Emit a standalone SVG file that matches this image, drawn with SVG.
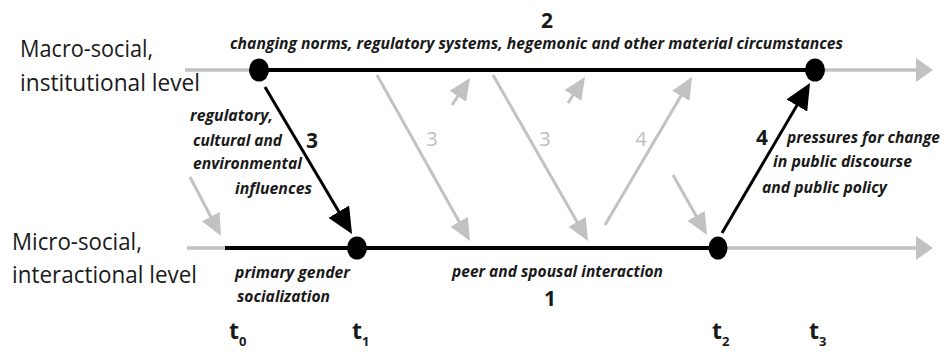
<svg xmlns="http://www.w3.org/2000/svg" width="947" height="356" viewBox="0 0 947 356">
<style>
.lvl{font-family:"Open Sans","Noto Sans",sans-serif;font-size:23px;fill:#1a1a1a}
.lab{font-family:"Open Sans","Noto Sans",sans-serif;font-size:15.5px;font-weight:bold;font-style:italic;fill:#1a1a1a}
.num{font-family:"Open Sans","Noto Sans",sans-serif;font-size:21px;font-weight:bold;fill:#1a1a1a}
.gnum{font-family:"Open Sans","Noto Sans",sans-serif;font-size:20px;fill:#bdbdbd}
.t{font-family:"Open Sans","Noto Sans",sans-serif;font-size:23px;font-weight:bold;fill:#1a1a1a}
.sub{font-size:13px}
.gl{stroke:#c2c2c2;stroke-width:3.5;fill:none}
.ga{stroke:#c2c2c2;stroke-width:3;fill:none;marker-end:url(#gh)}
.bl{stroke:#000;stroke-width:4;fill:none}
.ba{stroke:#000;stroke-width:3;fill:none;marker-end:url(#bh)}
.node{fill:#000}
</style>
<defs>
<marker id="gh" markerUnits="userSpaceOnUse" markerWidth="22" markerHeight="20" refX="18" refY="10" orient="auto" viewBox="0 0 22 20"><path d="M0,0 L22,10 L0,20 z" fill="#c2c2c2"/></marker>
<marker id="bh" markerUnits="userSpaceOnUse" markerWidth="26" markerHeight="24" refX="22" refY="12" orient="auto" viewBox="0 0 26 24"><path d="M0,0 L26,12 L0,24 z" fill="#000"/></marker>
<marker id="gt" markerUnits="userSpaceOnUse" markerWidth="17" markerHeight="24" refX="1" refY="12" orient="auto" viewBox="0 0 17 24"><path d="M0,0 L17,12 L0,24 z" fill="#c2c2c2"/></marker>
</defs>
<rect width="947" height="356" fill="#fff"/>

<g id="level-labels">
<text class="lvl" x="20" y="57" textLength="133" lengthAdjust="spacingAndGlyphs">Macro-social,</text>
<text class="lvl" x="20" y="91" textLength="180" lengthAdjust="spacingAndGlyphs">institutional level</text>
<text class="lvl" x="12" y="250" textLength="130" lengthAdjust="spacingAndGlyphs">Micro-social,</text>
<text class="lvl" x="12" y="283" textLength="185" lengthAdjust="spacingAndGlyphs">interactional level</text>
</g>

<g id="connectors">
<line class="gl" x1="185" y1="70" x2="917" y2="70" marker-end="url(#gt)"/>
<line class="gl" x1="187" y1="248" x2="917" y2="248" marker-end="url(#gt)"/>
<line class="bl" x1="259" y1="70" x2="816" y2="70"/>
<line class="bl" x1="225" y1="248" x2="717" y2="248"/>
<line class="ga" x1="190" y1="177" x2="219.1" y2="232.5"/>
<line class="ga" x1="377" y1="75" x2="468" y2="237.5"/>
<line class="ga" x1="452" y1="105" x2="467.8" y2="81.3"/>
<line class="ga" x1="493" y1="75" x2="586" y2="237.5"/>
<line class="ga" x1="568" y1="103" x2="582.8" y2="80.3"/>
<line class="ga" x1="605" y1="225" x2="690" y2="80.4"/>
<line class="ga" x1="673" y1="175" x2="705" y2="231.5"/>
<line class="ba" x1="265" y1="87" x2="350" y2="230.6"/>
<line class="ba" x1="722" y1="233" x2="808" y2="86.5"/>
</g>

<g id="node-macro-t0"><ellipse class="node" cx="259" cy="70" rx="10" ry="11.5"/></g>
<g id="node-macro-t3"><ellipse class="node" cx="815" cy="70" rx="10" ry="11.5"/></g>
<g id="node-micro-t1"><ellipse class="node" cx="357" cy="248" rx="10" ry="11.5"/></g>
<g id="node-micro-t2"><ellipse class="node" cx="718" cy="248" rx="9.5" ry="11.5"/></g>

<g id="labels">
<text class="num" x="547" y="28" text-anchor="middle">2</text>
<text class="lab" x="230" y="49" textLength="613" lengthAdjust="spacingAndGlyphs">changing norms, regulatory systems, hegemonic and other material circumstances</text>
<text class="lab" x="190" y="121" textLength="83" lengthAdjust="spacingAndGlyphs">regulatory,</text>
<text class="lab" x="193" y="146" textLength="89" lengthAdjust="spacingAndGlyphs">cultural and</text>
<text class="lab" x="193" y="169" textLength="109" lengthAdjust="spacingAndGlyphs">environmental</text>
<text class="lab" x="235" y="194" textLength="77" lengthAdjust="spacingAndGlyphs">influences</text>
<text class="num" x="312" y="148" text-anchor="middle">3</text>
<text class="gnum" x="432" y="146" text-anchor="middle">3</text>
<text class="gnum" x="545" y="146" text-anchor="middle">3</text>
<text class="gnum" x="641" y="146" text-anchor="middle">4</text>
<text class="num" x="762" y="145" text-anchor="middle">4</text>
<text class="lab" x="787" y="143" textLength="153" lengthAdjust="spacingAndGlyphs">pressures for change</text>
<text class="lab" x="773" y="167" textLength="139" lengthAdjust="spacingAndGlyphs">in public discourse</text>
<text class="lab" x="762" y="193" textLength="125" lengthAdjust="spacingAndGlyphs">and public policy</text>
<text class="lab" x="235" y="278" textLength="115" lengthAdjust="spacingAndGlyphs">primary gender</text>
<text class="lab" x="237" y="302" textLength="93" lengthAdjust="spacingAndGlyphs">socialization</text>
<text class="lab" x="452" y="277" textLength="211" lengthAdjust="spacingAndGlyphs">peer and spousal interaction</text>
<text class="num" x="550" y="306" text-anchor="middle">1</text>
</g>

<g id="time-labels">
<text class="t" x="229" y="339">t<tspan class="sub" dy="7">0</tspan></text>
<text class="t" x="352" y="339">t<tspan class="sub" dy="7">1</tspan></text>
<text class="t" x="712" y="339">t<tspan class="sub" dy="7">2</tspan></text>
<text class="t" x="809" y="339">t<tspan class="sub" dy="7">3</tspan></text>
</g>
</svg>
